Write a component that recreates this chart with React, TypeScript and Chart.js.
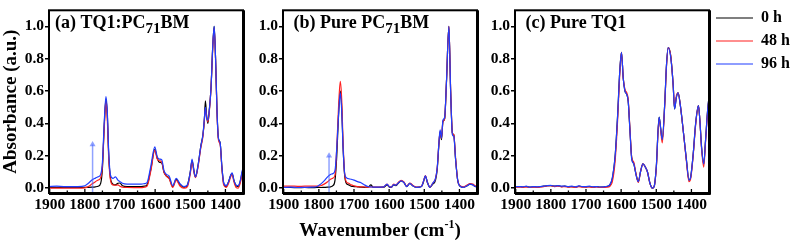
import React, { useEffect, useRef } from "react";
import { Chart, registerables } from "chart.js";
Chart.register(...registerables);

const FONT = "'Liberation Serif', 'Times New Roman', serif";

// ---------- axis ticks ----------
const xTickValues = [1900, 1850, 1800, 1750, 1700, 1650, 1600, 1550, 1500, 1450, 1400, 1350];
const yTickValues = [0, 0.2, 0.4, 0.6, 0.8, 1.0];
const seriesLabels = ["0 h", "48 h", "96 h"];

// ---------- panel (a) TQ1:PC71BM ----------
const wnA = [1902, 1880, 1860, 1840, 1820, 1800, 1790, 1780, 1770, 1762, 1755, 1750, 1745, 1740, 1736, 1732, 1727, 1720, 1713, 1706, 1700, 1693, 1680, 1660, 1640, 1630, 1623, 1612, 1601, 1594, 1588, 1581, 1575, 1568, 1560, 1550, 1540, 1530, 1518, 1508, 1500, 1495, 1489, 1485, 1478, 1470, 1464, 1460, 1457, 1454, 1450, 1446, 1441, 1436, 1432, 1428, 1424, 1420, 1415, 1410, 1405, 1398, 1391, 1385, 1381, 1376, 1370, 1364, 1358, 1352, 1348];
const a0h = [.005, .005, .004, .005, .004, .005, .005, .006, .008, .012, .03, .12, .38, .55, .45, .2, .06, .025, .02, .03, .032, .015, .01, .01, .01, .012, .02, .12, .24, .185, .16, .155, .1, .075, .062, .01, .055, .025, .005, .02, .1, .17, .1, .07, .14, .26, .33, .42, .54, .46, .40, .48, .62, .88, 1.0, .8, .48, .31, .28, .13, .03, .01, .04, .08, .09, .05, .015, .01, .04, .1, .12];
const a48h = [0, 0, 0, 0, 0, .002, .01, .025, .04, .05, .065, .14, .36, .54, .42, .18, .05, .02, .018, .02, .012, .006, .004, .003, .003, .006, .012, .11, .235, .18, .17, .16, .1, .075, .058, .005, .05, .015, 0, .01, .09, .16, .09, .065, .13, .25, .32, .42, .49, .45, .41, .47, .62, .87, .99, .79, .47, .3, .27, .12, .02, .005, .03, .07, .085, .04, .005, 0, .03, .09, .11];
const a96h = [.01, .012, .01, .01, .01, .015, .03, .05, .062, .07, .085, .16, .40, .566, .47, .22, .08, .06, .07, .05, .04, .03, .025, .025, .025, .028, .035, .14, .255, .195, .18, .175, .11, .085, .075, .015, .06, .03, .01, .02, .1, .18, .1, .07, .14, .26, .33, .43, .50, .44, .42, .48, .62, .88, 1.0, .8, .48, .31, .28, .13, .035, .015, .04, .08, .095, .05, .02, .015, .045, .11, .13];
const arrowAX = 1778;
const arrowAY = [-0.03, 0.27];

// ---------- panel (b) Pure PC71BM ----------
const wnB = [1902, 1880, 1860, 1840, 1820, 1805, 1795, 1785, 1775, 1767, 1760, 1754, 1749, 1744, 1739, 1735, 1731, 1727, 1722, 1715, 1708, 1700, 1690, 1680, 1670, 1660, 1652, 1645, 1630, 1615, 1606, 1600, 1594, 1587, 1581, 1574, 1566, 1558, 1550, 1541, 1533, 1522, 1508, 1502, 1497, 1491, 1484, 1476, 1468, 1463, 1459, 1455, 1451, 1447, 1442, 1437, 1430, 1425, 1420, 1416, 1411, 1405, 1398, 1388, 1378, 1370, 1362, 1355, 1348];
const b0h = [.004, .004, .003, .004, .003, .004, .004, .005, .006, .008, .015, .05, .2, .45, .6, .5, .25, .09, .03, .02, .012, .01, .008, .006, .005, .006, .02, .005, .005, .006, .02, .008, .005, .02, .015, .03, .045, .035, .01, .03, .015, .005, .01, .04, .075, .035, .005, .025, .05, .12, .25, .35, .30, .41, .43, .65, 1.0, .6, .34, .33, .18, .05, .012, .005, .015, .025, .022, .01, .008];
const b48h = [.012, .013, .011, .012, .012, .012, .015, .025, .04, .055, .062, .08, .25, .5, .66, .55, .28, .1, .04, .03, .02, .015, .01, .008, .007, .006, .008, .006, .006, .008, .025, .01, .006, .025, .02, .035, .048, .038, .012, .032, .018, .006, .012, .045, .078, .035, .006, .03, .06, .13, .26, .35, .31, .41, .43, .65, 1.0, .61, .34, .33, .19, .05, .015, .008, .02, .028, .025, .015, .012];
const b96h = [.005, .006, .004, .005, .006, .01, .025, .045, .07, .085, .09, .11, .25, .45, .59, .48, .25, .1, .065, .058, .055, .05, .04, .033, .02, .01, .008, .006, .006, .008, .025, .01, .006, .022, .018, .032, .045, .035, .01, .03, .015, .005, .01, .045, .076, .035, .005, .03, .06, .13, .26, .36, .31, .42, .44, .65, 1.0, .6, .33, .32, .18, .05, .012, .005, .015, .025, .02, .01, .008];
const arrowBX = 1771;
const arrowBY = [-0.03, 0.2];

// ---------- panel (c) Pure TQ1 ----------
const wnC = [1902, 1890, 1880, 1870, 1860, 1850, 1840, 1830, 1820, 1810, 1800, 1790, 1780, 1770, 1760, 1750, 1740, 1730, 1720, 1710, 1700, 1690, 1680, 1670, 1660, 1650, 1640, 1632, 1625, 1617, 1610, 1604, 1599, 1594, 1589, 1584, 1580, 1575, 1570, 1564, 1557, 1551, 1545, 1538, 1531, 1525, 1518, 1511, 1506, 1500, 1492, 1488, 1483, 1476, 1471, 1466, 1459, 1452, 1448, 1443, 1438, 1432, 1422, 1414, 1407, 1402, 1395, 1388, 1380, 1376, 1371, 1365, 1360, 1354, 1348];
const c0h = [.008, .01, .007, .01, .006, .008, .007, .009, .012, .015, .016, .012, .015, .01, .012, .008, .01, .006, .012, .009, .008, .01, .006, .009, .006, .007, .01, .02, .06, .2, .45, .72, .84, .68, .6, .58, .54, .36, .19, .15, .08, .04, .1, .15, .13, .1, .03, 0, .01, .13, .44, .38, .3, .52, .76, .87, .82, .64, .49, .56, .59, .52, .33, .17, .05, .07, .21, .4, .51, .42, .25, .15, .29, .48, .6];
const c48h = [.006, .006, .005, .008, .004, .006, .005, .007, .01, .014, .015, .01, .012, .008, .01, .006, .008, .004, .01, .006, .006, .008, .004, .007, .004, .005, .006, .012, .04, .17, .42, .7, .84, .68, .61, .59, .55, .37, .19, .16, .08, .035, .1, .15, .13, .1, .03, 0, .01, .12, .43, .37, .28, .51, .75, .87, .82, .64, .5, .57, .59, .52, .33, .16, .04, .06, .2, .39, .51, .42, .24, .13, .28, .47, .59];
const c96h = [.01, .01, .008, .012, .006, .01, .008, .01, .012, .016, .017, .013, .016, .012, .013, .01, .012, .008, .014, .01, .01, .012, .008, .01, .007, .008, .012, .022, .065, .2, .45, .72, .84, .68, .6, .58, .54, .36, .18, .15, .075, .04, .1, .15, .13, .1, .03, 0, .01, .13, .44, .38, .3, .52, .76, .87, .81, .64, .49, .56, .59, .52, .33, .17, .05, .07, .21, .4, .51, .42, .25, .15, .29, .48, .6];

// ---------- styles ----------
const seriesColors = ["#000000", "#ff1f1f", "#1f3dff"];
const arrowColor = "rgba(70,100,255,0.6)";
const LEGEND_WIDTH = 87;

type Piece = { text: string; sub?: boolean };

const framePlugin = {
  id: "frameTicks",
  afterDatasetsDraw(chart: any) {
    const { ctx, chartArea: a, scales } = chart;
    ctx.save();
    ctx.strokeStyle = "#000";
    ctx.lineWidth = 1.3;
    xTickValues.forEach((v) => {
      const px = scales.x.getPixelForValue(v);
      const len = v % 100 === 0 ? 4 : 2.5;
      ctx.beginPath();
      ctx.moveTo(px, a.bottom);
      ctx.lineTo(px, a.bottom - len);
      ctx.stroke();
    });
    ctx.lineWidth = 2;
    ctx.strokeRect(a.left, a.top, a.right - a.left, a.bottom - a.top);
    ctx.lineWidth = 1;
    ctx.beginPath();
    ctx.moveTo(a.right + 1.5, a.top);
    ctx.lineTo(a.right + 1.5, a.bottom + 1.5);
    ctx.lineTo(a.left, a.bottom + 1.5);
    ctx.stroke();
    ctx.restore();
  },
};

// fixes the legend box width so that the whole label text fits
const legendWidthPlugin = {
  id: "legendWidth",
  beforeLayout(chart: any) {
    const lg = chart.legend;
    if (lg && !lg.__fixedWidth) {
      const orig = lg.fit.bind(lg);
      lg.fit = function () {
        orig();
        this.width = LEGEND_WIDTH;
      };
      lg.__fixedWidth = true;
    }
  },
};

function drawPieces(ctx: CanvasRenderingContext2D, pieces: Piece[], x: number, y: number, size: number, subSize: number, subShift: number, center: boolean) {
  const fontFor = (p: Piece) => `bold ${p.sub ? subSize : size}px ${FONT}`;
  let total = 0;
  pieces.forEach((p) => {
    ctx.font = fontFor(p);
    total += ctx.measureText(p.text).width;
  });
  let cx = center ? x - total / 2 : x;
  ctx.fillStyle = "#000";
  ctx.textBaseline = "alphabetic";
  ctx.textAlign = "left";
  pieces.forEach((p) => {
    ctx.font = fontFor(p);
    ctx.fillText(p.text, cx, p.sub ? y + subShift : y);
    cx += ctx.measureText(p.text).width;
  });
}

function panelTitlePlugin(pieces: Piece[], dx: number) {
  return {
    id: "panelTitle",
    afterDraw(chart: any) {
      const { ctx, chartArea: a } = chart;
      ctx.save();
      drawPieces(ctx, pieces, a.left + dx, a.top + 18, 18, 15, 4.5, false);
      ctx.restore();
    },
  };
}

const xTitlePlugin = {
  id: "xTitle",
  afterDraw(chart: any) {
    const { ctx, chartArea: a } = chart;
    ctx.save();
    drawPieces(ctx, [{ text: "Wavenumber (cm" }, { text: "-1", sub: true }, { text: ")" }], (a.left + a.right) / 2, 236, 19, 12, -8, true);
    ctx.restore();
  },
};

function lineSet(label: string, wn: number[], ys: number[], color: string, order: number) {
  return {
    label,
    data: wn.map((x, i) => ({ x, y: ys[i] })),
    borderColor: color,
    backgroundColor: color,
    borderWidth: 1.2,
    pointRadius: 0,
    fill: false,
    cubicInterpolationMode: "monotone",
    order,
  };
}

function arrowSet(x: number, ys: number[]) {
  return {
    label: "arrow",
    data: ys.map((y) => ({ x, y })),
    borderColor: arrowColor,
    backgroundColor: arrowColor,
    borderWidth: 1.5,
    pointRadius: [0, 3.5],
    pointStyle: "triangle",
    pointBorderWidth: 0,
    tension: 0,
    fill: false,
    order: 0,
  };
}

function makeConfig(datasets: any[], yWidth: number, padRight: number, showYTitle: boolean, showLegend: boolean, plugins: any[]) {
  const tickFont = { family: FONT, size: 15.5, weight: "bold" as const };
  return {
    type: "line" as const,
    data: { datasets },
    plugins: [framePlugin, ...plugins],
    options: {
      responsive: false,
      animation: false,
      layout: { padding: { top: 3, right: padRight, left: 0, bottom: 0 } },
      plugins: {
        tooltip: { enabled: false },
        legend: {
          display: showLegend,
          position: "right",
          align: "start",
          labels: {
            usePointStyle: true,
            pointStyle: "line",
            pointStyleWidth: 37,
            color: "#000",
            padding: 7,
            font: { family: FONT, size: 16, weight: "bold" },
            sort: (p: any, q: any) => p.datasetIndex - q.datasetIndex,
          },
        },
      },
      scales: {
        x: {
          type: "linear",
          reverse: true,
          min: 1350,
          max: 1902,
          afterBuildTicks: (s: any) => {
            s.ticks = xTickValues.map((v) => ({ value: v }));
          },
          afterFit: (s: any) => {
            s.height = 48;
          },
          ticks: {
            autoSkip: false,
            maxRotation: 0,
            padding: 3,
            color: "#000",
            font: tickFont,
            callback: (v: any) => (Number(v) % 100 === 0 ? String(v) : ""),
          },
          grid: { display: false, drawTicks: false },
          border: { display: false },
        },
        y: {
          min: -0.03,
          max: 1.1,
          afterBuildTicks: (s: any) => {
            s.ticks = yTickValues.map((v) => ({ value: v }));
          },
          afterFit: (s: any) => {
            s.width = yWidth;
          },
          ticks: {
            padding: 1,
            color: "#000",
            font: tickFont,
            callback: (v: any) => Number(v).toFixed(1),
          },
          grid: { drawOnChartArea: false, drawTicks: true, tickLength: 4, color: "#000", lineWidth: 1.5 },
          border: { display: false },
          title: {
            display: showYTitle,
            text: "Absorbance (a.u.)",
            color: "#000",
            font: { family: FONT, size: 19, weight: "bold" },
            padding: { top: 0, bottom: 0 },
          },
        },
      },
    },
  };
}

export default function App() {
  const refA = useRef<HTMLCanvasElement>(null);
  const refB = useRef<HTMLCanvasElement>(null);
  const refC = useRef<HTMLCanvasElement>(null);

  useEffect(() => {
    const cA = new Chart(
      refA.current as HTMLCanvasElement,
      makeConfig(
        [
          lineSet(seriesLabels[0], wnA, a0h, seriesColors[0], 3),
          lineSet(seriesLabels[1], wnA, a48h, seriesColors[1], 2),
          lineSet(seriesLabels[2], wnA, a96h, seriesColors[2], 1),
          arrowSet(arrowAX, arrowAY),
        ],
        49, 7, true, false,
        [panelTitlePlugin([{ text: "(a) TQ1:PC" }, { text: "71", sub: true }, { text: "BM" }], 6)]
      ) as any
    );
    const cB = new Chart(
      refB.current as HTMLCanvasElement,
      makeConfig(
        [
          lineSet(seriesLabels[0], wnB, b0h, seriesColors[0], 3),
          lineSet(seriesLabels[1], wnB, b48h, seriesColors[1], 2),
          lineSet(seriesLabels[2], wnB, b96h, seriesColors[2], 1),
          arrowSet(arrowBX, arrowBY),
        ],
        33, 5, false, false,
        [panelTitlePlugin([{ text: "(b) Pure PC" }, { text: "71", sub: true }, { text: "BM" }], 10.5), xTitlePlugin]
      ) as any
    );
    const cC = new Chart(
      refC.current as HTMLCanvasElement,
      makeConfig(
        [
          lineSet(seriesLabels[0], wnC, c0h, seriesColors[0], 3),
          lineSet(seriesLabels[1], wnC, c48h, seriesColors[1], 2),
          lineSet(seriesLabels[2], wnC, c96h, seriesColors[2], 1),
        ],
        33, 0, false, true,
        [legendWidthPlugin, panelTitlePlugin([{ text: "(c) Pure TQ1" }], 10.5)]
      ) as any
    );
    return () => {
      cA.destroy();
      cB.destroy();
      cC.destroy();
    };
  }, []);

  const cs = (left: number, width: number): React.CSSProperties => ({ position: "absolute", left, top: 0, width, height: 241 });

  return (
    <div style={{ position: "absolute", left: 0, top: 0, width: 796, height: 241, background: "#fff", overflow: "hidden" }}>
      <canvas ref={refA} width={250} height={241} style={cs(0, 250)} />
      <canvas ref={refB} width={232} height={241} style={cs(250, 232)} />
      <canvas ref={refC} width={314} height={241} style={cs(482, 314)} />
    </div>
  );
}
